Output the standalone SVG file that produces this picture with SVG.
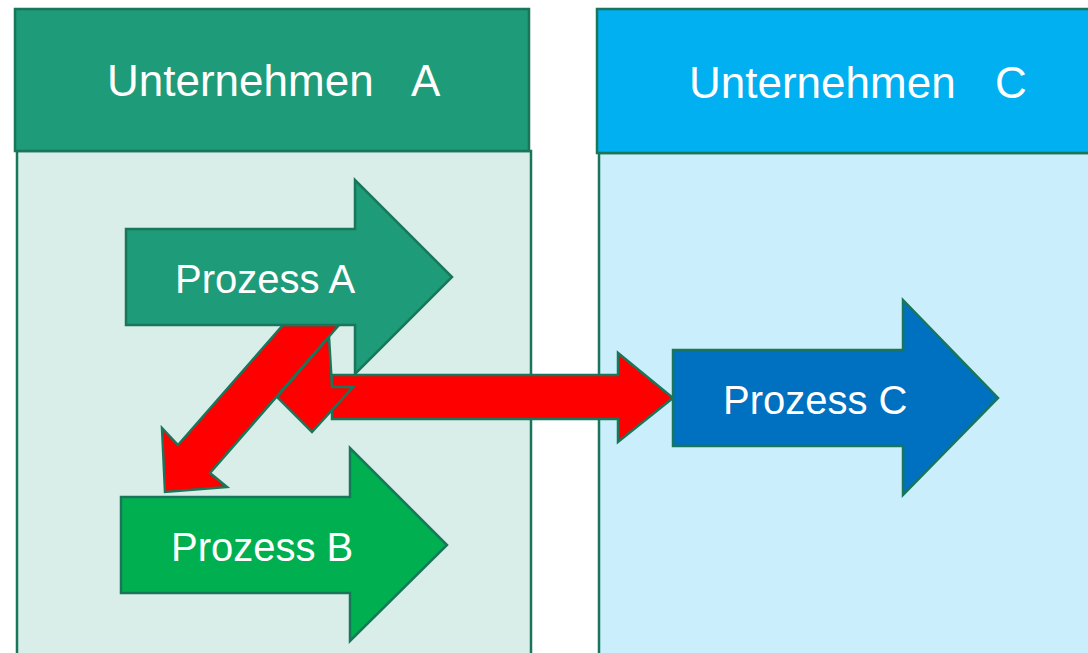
<svg xmlns="http://www.w3.org/2000/svg" width="1088" height="653" viewBox="0 0 1088 653">
<style>
.lbl{font-family:"Liberation Sans",Arial,sans-serif;fill:#ffffff;}
.edge{stroke:#19765A;stroke-width:2.5;stroke-linejoin:miter;}
.red{fill:#FF0000;stroke:#19765A;stroke-width:2.5;stroke-linejoin:miter;}
</style>
<rect width="1088" height="653" fill="#ffffff"/>
<g id="unternehmen-a">
<rect class="edge" x="17" y="151" width="514" height="512" fill="#D9EEE8"/>
<rect class="edge" x="15" y="9" width="514" height="142" fill="#1E9B78"/>
<text class="lbl" y="96" font-size="44"><tspan x="107">Unternehmen</tspan><tspan x="411">A</tspan></text>
</g>
<g id="unternehmen-c">
<rect class="edge" x="599" y="153" width="500" height="510" fill="#CBEEFC"/>
<rect class="edge" x="597" y="9" width="502" height="144" fill="#00B0F0"/>
<text class="lbl" y="98" font-size="44"><tspan x="689">Unternehmen</tspan><tspan x="995">C</tspan></text>
</g>
<g id="connectors">
<polygon class="red" points="283,325 339,325 210,473 227,487 165,492 162,428 178,445"/>
<polygon class="red" points="332,375 618,375 618,353 673,398 618,442 618,419 332,419"/>
<polygon class="red" points="329,337 332,387 353,387 312,432 277,397"/>
</g>
<g id="prozess-a">
<polygon class="edge" fill="#1E9B78" points="126,229 355,229 355,180 452,277 355,374 355,325 126,325"/>
<text class="lbl" x="175" y="293" font-size="40">Prozess A</text>
</g>
<g id="prozess-b">
<polygon class="edge" fill="#00B050" points="121,497 350,497 350,448 447,545 350,641 350,593 121,593"/>
<text class="lbl" x="171" y="561" font-size="40">Prozess B</text>
</g>
<g id="prozess-c">
<polygon class="edge" fill="#0070C0" points="673,350 903,350 903,300 998,398 903,495 903,446 673,446"/>
<text class="lbl" x="723" y="414" font-size="40">Prozess C</text>
</g>
</svg>
